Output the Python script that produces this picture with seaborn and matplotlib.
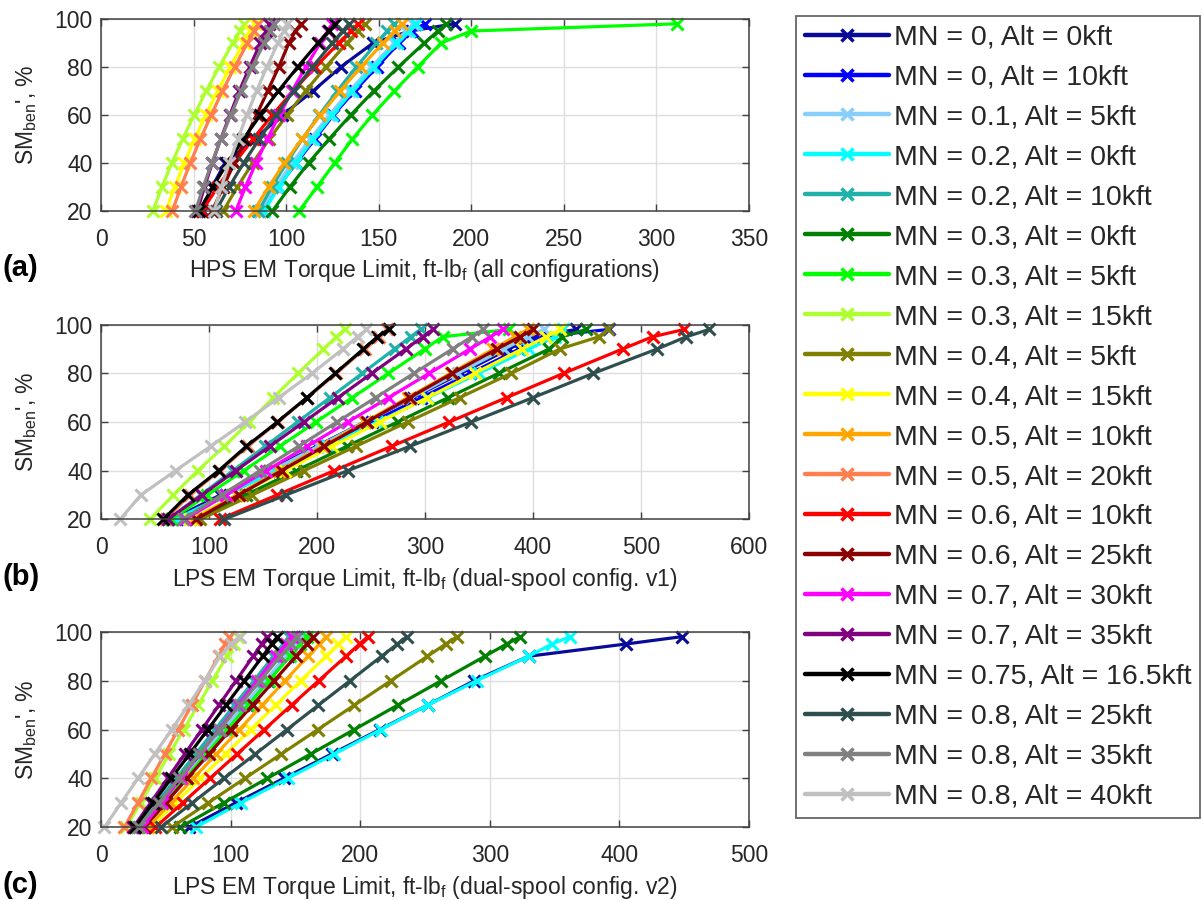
import matplotlib
matplotlib.use("Agg")
import matplotlib.pyplot as plt
import seaborn as sns
from matplotlib.lines import Line2D

# ---------------- data ----------------
labels = ["MN = 0, Alt = 0kft", "MN = 0, Alt = 10kft", "MN = 0.1, Alt = 5kft",
          "MN = 0.2, Alt = 0kft", "MN = 0.2, Alt = 10kft", "MN = 0.3, Alt = 0kft",
          "MN = 0.3, Alt = 5kft", "MN = 0.3, Alt = 15kft", "MN = 0.4, Alt = 5kft",
          "MN = 0.4, Alt = 15kft", "MN = 0.5, Alt = 10kft", "MN = 0.5, Alt = 20kft",
          "MN = 0.6, Alt = 10kft", "MN = 0.6, Alt = 25kft", "MN = 0.7, Alt = 30kft",
          "MN = 0.7, Alt = 35kft", "MN = 0.75, Alt = 16.5kft", "MN = 0.8, Alt = 25kft",
          "MN = 0.8, Alt = 35kft", "MN = 0.8, Alt = 40kft"]
colors = ["#0A0A9A", "#0000FF", "#87CEFA", "#00FFFF", "#20B2AA", "#008000",
          "#00FF00", "#ADFF2F", "#808000", "#FFFF00", "#FFA500", "#FF7F50",
          "#FF0000", "#8B0000", "#FF00FF", "#800080", "#000000", "#2F4F4F",
          "#808080", "#C0C0C0"]

sm_levels = [20, 30, 40, 50, 60, 70, 80, 90, 95, 98]

torque_hps = [
    [55, 60, 67, 83, 98, 114.5, 129.5, 147, 167, 191],
    [86, 95.5, 105.5, 115.5, 125.5, 137, 149, 161, 168, 175],
    [86, 94.3, 103.2, 113, 123.3, 134.2, 146, 158.3, 164.8, 168.7],
    [88, 96.2, 105.1, 114.7, 125, 135.8, 147.5, 159.7, 166.1, 170],
    [85, 92.3, 100.2, 108.8, 117.9, 127.6, 137.9, 148.8, 154.6, 158],
    [92.6, 102, 112.1, 123.2, 134.9, 147.3, 160.6, 174.6, 182, 186.4],
    [107, 116.6, 126.2, 135.8, 146.6, 158.4, 171, 183.7, 200, 311],
    [28, 32.9, 38.3, 44.1, 50.3, 56.8, 63.8, 71.2, 75.1, 77.4],
    [66, 73.6, 81.9, 90.9, 100.5, 110.5, 121.4, 132.8, 138.8, 142.4],
    [35, 39.8, 45, 50.6, 56.6, 63, 69.8, 77, 80.7, 83],
    [82.5, 90.5, 99.1, 108.5, 118.5, 129.1, 140.4, 152.3, 158.6, 162.4],
    [38.5, 43.2, 48.2, 53.7, 59.5, 65.6, 72.2, 79.1, 82.8, 85],
    [54.5, 63, 72.1, 82.1, 92.6, 103.8, 115.8, 128.4, 135, 139],
    [60, 66, 72, 78, 84, 90, 96, 101.5, 105, 108],
    [72.8, 78, 83.7, 89.8, 96.3, 103.2, 110.6, 118.4, 122.5, 125],
    [52, 55.9, 60.1, 64.7, 69.6, 74.7, 80.3, 86.1, 89.2, 91],
    [53, 60.3, 68.3, 76.9, 86.1, 95.8, 106.2, 117.2, 123, 126.4],
    [62, 69.2, 77, 85.5, 94.5, 104, 114.2, 124.9, 130.6, 134],
    [51, 55.2, 59.8, 64.8, 70.1, 75.7, 81.7, 88.1, 91.4, 93.4],
    [61, 65, 69.2, 73.9, 78.8, 84, 89.6, 95.5, 98.6, 100.5],
]

torque_lps_v1 = [
    [66, 110.5, 155.1, 199.6, 244.1, 288.7, 333.2, 377.7, 400, 440],
    [70, 115.3, 160.7, 206, 251.3, 296.7, 342, 387.3, 406, 470],
    [72, 115.1, 158.1, 201.2, 244.3, 287.4, 330.4, 373.5, 395, 410],
    [68.6, 115.5, 162.3, 209.2, 256, 302.9, 349.8, 396.6, 420, 428],
    [62.4, 92.3, 122.2, 152, 182, 212, 242, 271.8, 286.7, 296],
    [87, 133.9, 180.8, 227.7, 274.6, 321.5, 368.2, 415, 427, 449],
    [65, 98.5, 132.1, 165.6, 199.1, 232.7, 266.2, 299.8, 316.5, 378],
    [45.5, 67, 89.6, 114.2, 137.3, 159.5, 182.5, 206, 218, 225.7],
    [92, 140, 188, 236, 284, 332, 380, 425, 461, 469],
    [82.4, 126.4, 170.3, 214.3, 258.2, 302.2, 346.2, 390.1, 412.1, 425.3],
    [86, 125.6, 165.2, 204.8, 244.5, 284, 323.7, 363.3, 383, 395],
    [60, 82, 110, 136, 164, 191, 218, 244, 257, 265],
    [110, 163, 216, 269, 322.5, 375.5, 428.5, 483, 510.7, 540],
    [88, 127.6, 167.2, 206.7, 246.3, 285.8, 325.4, 366.7, 388, 400.3],
    [77.8, 115.5, 153.2, 190.9, 228.6, 266.3, 304, 341.7, 360.6, 372],
    [62, 93.5, 124.9, 156.4, 187.9, 219.4, 250.8, 282.3, 298, 307.5],
    [57.8, 80.4, 109, 134.6, 163.3, 190.6, 217, 243, 256, 266.6],
    [114, 171.3, 228.6, 286, 343, 400, 456, 515, 542, 563],
    [76, 111.6, 147.3, 182.9, 218.6, 254.2, 289.8, 325.5, 343.3, 354],
    [17.7, 37, 69, 101.5, 133.5, 164.5, 195.5, 224, 237.5, 245.7],
]

torque_lps_v2 = [
    [68, 104, 141, 178, 215, 252, 288, 330, 405, 448],
    [34, 49.8, 65.6, 81.3, 97.1, 112.9, 128.7, 144.5, 152.4, 157],
    [31, 46.9, 62.9, 78.8, 94.8, 110.7, 126.6, 142.6, 150.5, 155.3],
    [73, 108, 144, 180, 216, 252, 290, 330, 348, 362],
    [28, 43, 58, 73, 88, 103, 118, 133, 140.5, 145],
    [61, 94.6, 128.2, 161.8, 195.4, 229, 262.6, 296.2, 313, 323.5],
    [33, 49.1, 65.2, 81.3, 97.5, 113.6, 129.7, 145.8, 153.8, 158.7],
    [19.4, 30.5, 41.6, 52.7, 63.8, 74.9, 86, 97.1, 102.7, 106],
    [54.5, 82.7, 110.9, 139.1, 167.3, 195.5, 223.7, 251.9, 266, 274.7],
    [38, 57.4, 76.7, 96.1, 115.4, 134.8, 154.2, 173.5, 183.2, 189],
    [36, 53.7, 71.3, 89, 106.7, 124.4, 142, 159.7, 168.5, 173.8],
    [18, 28.4, 38.8, 49.2, 59.5, 70, 80.3, 90.7, 95.9, 99],
    [42, 63, 84, 105, 126, 147, 168, 189, 199.5, 205.8],
    [33, 49.8, 66.5, 83.3, 100.1, 116.9, 133.6, 150.4, 158.8, 163.8],
    [32, 46.7, 61.5, 76.2, 91, 105.7, 120.5, 135.2, 142.6, 147],
    [25, 38.2, 51.4, 64.6, 77.8, 91, 104.2, 117.4, 124, 128],
    [26, 40.1, 54.2, 68.3, 82.4, 96.5, 110.6, 124.7, 131.8, 136],
    [46, 70.4, 94.7, 119.1, 143.5, 167.8, 192.2, 216.5, 228.7, 236],
    [29, 44.6, 60.3, 75.9, 91.6, 107.2, 122.8, 138.5, 146.3, 151],
    [2.6, 15.5, 28.5, 41.5, 54.5, 67.5, 80, 92, 100, 107.2],
]

xlabels = [r"HPS EM Torque Limit, ft-lb$_\mathregular{f}$ (all configurations)",
           r"LPS EM Torque Limit, ft-lb$_\mathregular{f}$ (dual-spool config. v1)",
           r"LPS EM Torque Limit, ft-lb$_\mathregular{f}$ (dual-spool config. v2)"]
panel_tags = ["(a)", "(b)", "(c)"]
xmax = [350, 600, 500]
xstep = [50, 100, 100]
ylabel = r"SM$_\mathregular{ben}$', %"

# ---------------- style ----------------
sns.set_theme(style="white")
plt.rcParams["font.family"] = ["Liberation Sans", "DejaVu Sans"]
plt.rcParams["mathtext.default"] = "regular"

W, H = 1203, 901
fig = plt.figure(figsize=(W / 100, H / 100), dpi=100)

# axes pixel boxes: (left, top, right, bottom)
boxes = [(101, 19, 749, 211), (101, 324.6, 749, 519.3), (101, 631.8, 749, 827.3)]
tag_y = [268, 577, 885]
txt = "#262626"

for k, (data, box) in enumerate(zip([torque_hps, torque_lps_v1, torque_lps_v2], boxes)):
    l, t, r, b = box
    ax = fig.add_axes([l / W, 1 - b / H, (r - l) / W, (b - t) / H])
    for xs, c in zip(data, colors):
        sns.lineplot(x=xs, y=sm_levels, color=c, marker="x", ms=8, mew=2.2, mec=c,
                     lw=2.3, sort=False, estimator=None, ax=ax, legend=False,
                     clip_on=False)
    ax.set_xlim(0, xmax[k])
    ax.set_ylim(20, 100)
    ax.set_xticks(list(range(0, xmax[k] + 1, xstep[k])))
    ax.set_yticks([20, 40, 60, 80, 100])
    ax.grid(True, color="#dedede", lw=1)
    ax.set_axisbelow(True)
    for s in ax.spines.values():
        s.set_color("#404040")
        s.set_linewidth(1.1)
    ax.tick_params(direction="in", length=5, width=1, top=True, right=True,
                   bottom=True, left=True, labelsize=16.5, color="#404040",
                   labelcolor=txt, pad=6)
    ax.tick_params(axis="x", pad=12)
    ax.set_xlabel(xlabels[k], fontsize=16.5, color=txt)
    ax.set_ylabel(ylabel, fontsize=16.5, color=txt)
    hpx = b - t
    ax.xaxis.set_label_coords(0.5, -(tag_y[k] - 11 - b) / hpx)
    ax.yaxis.set_label_coords(-(101 - 39) / 648, 0.5)
    fig.text(2 / W, 1 - tag_y[k] / H, panel_tags[k], fontsize=21, fontweight="bold",
             ha="left", va="center", color="black")

handles = [Line2D([0], [0], color=c, lw=3.2, marker="x", ms=8, mew=2.5) for c in colors]
leg = fig.legend(handles, labels, loc="upper left",
                 bbox_to_anchor=(796 / W, 1 - 16 / H), bbox_transform=fig.transFigure,
                 fontsize=20.5, handlelength=2.95, handletextpad=0.2, labelspacing=0.49,
                 borderpad=0.3, borderaxespad=0, frameon=True, fancybox=False,
                 edgecolor="#404040", numpoints=1)
leg.get_frame().set_linewidth(1.3)
for tx in leg.get_texts():
    tx.set_color(txt)

fig.savefig("out.png", dpi=100)
